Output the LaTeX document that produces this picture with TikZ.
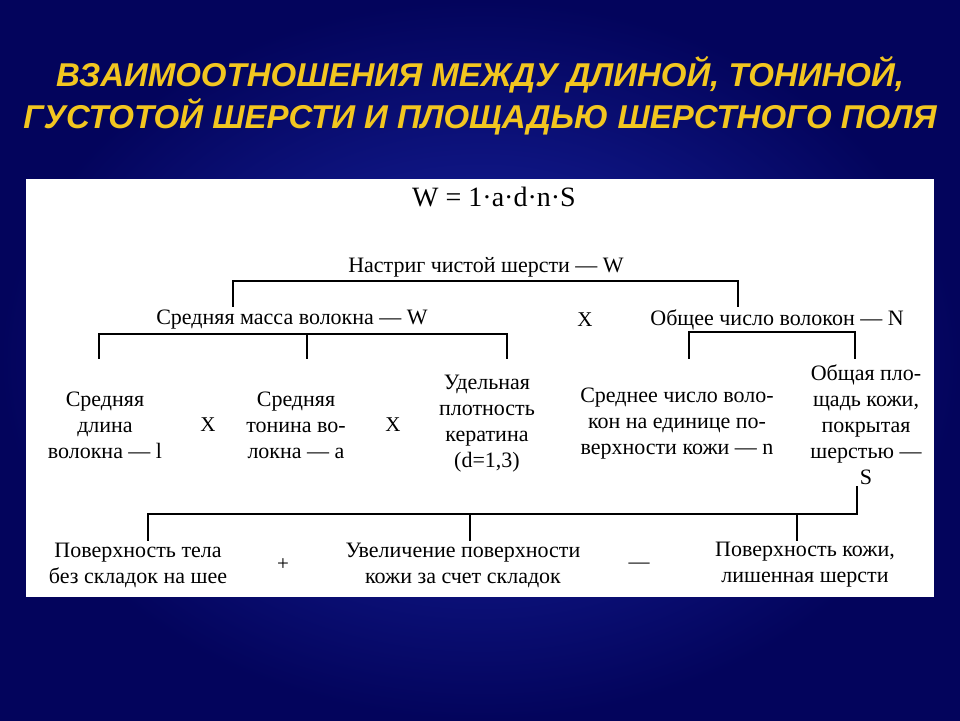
\documentclass[tikz,border=0pt]{standalone}
\usepackage{fontspec}
\setmainfont{Liberation Serif}
\newfontfamily\titlefont{Liberation Sans}
\definecolor{bgdark}{RGB}{3,4,92}
\definecolor{bglight}{RGB}{26,38,168}
\definecolor{titleyellow}{RGB}{242,198,32}
\tikzset{
  headline/.style={font=\titlefont\bfseries\itshape\fontsize{33}{38}\selectfont, text=titleyellow, inner sep=0},
  txt/.style={font=\fontsize{22}{26}\selectfont, align=center, inner sep=0},
  op/.style={font=\fontsize{21}{26}\selectfont, inner sep=0},
  brk/.style={line width=1.6pt, line cap=rect}
}
\begin{document}
\begin{tikzpicture}[x=1pt, y=-1pt]
	\useasboundingbox (0,0) rectangle (960,720);
	\shade[inner color=bglight, outer color=bgdark] (0,0) rectangle (960,720);
	\fill[white] (26,179) rectangle (934,597);

	% title
	\node[headline] (head1) at (480,75) {ВЗАИМООТНОШЕНИЯ МЕЖДУ ДЛИНОЙ, ТОНИНОЙ,};
	\node[headline] (head2) at (480,117) {ГУСТОТОЙ ШЕРСТИ И ПЛОЩАДЬЮ ШЕРСТНОГО ПОЛЯ};

	% formula and levels
	\node[txt, font=\fontsize{28}{30}\selectfont] (formula) at (494,197) {W = 1·a·d·n·S};
	\node[txt] (yield) at (486,267) {Настриг чистой шерсти — W};
	\node[txt] (mass) at (292,320) {Средняя масса волокна — W};
	\node[op] (x3) at (585,320) {X};
	\node[txt] (number) at (777,320) {Общее число волокон — N};

	\node[txt] (length) at (105,425) {Средняя\\длина\\волокна — l};
	\node[op] (x1) at (208,425) {X};
	\node[txt] (fineness) at (296,425) {Средняя\\тонина во-\\локна — a};
	\node[op] (x2) at (393,425) {X};
	\node[txt] (keratin) at (487,424) {Удельная\\плотность\\кератина\\(d=1,3)};
	\node[txt] (density) at (677,424) {Среднее число воло-\\кон на единице по-\\верхности кожи — n};
	\node[txt] (area) at (866,425) {Общая пло-\\щадь кожи,\\покрытая\\шерстью —\\S};

	\node[txt] (body) at (138,565) {Поверхность тела\\без складок на шее};
	\node[op] (plus) at (283,565) {+};
	\node[txt] (folds) at (463,565) {Увеличение поверхности\\кожи за счет складок};
	\node[op] (minus) at (639,566) {—};
	\node[txt] (bare) at (805,565) {Поверхность кожи,\\лишенная шерсти};

	% bracket ends
	\coordinate (ym) at (233,306);
	\coordinate (yn) at (738,306);
	\coordinate (ml) at (99,358);
	\coordinate (mf) at (307,358);
	\coordinate (mk) at (507,358);
	\coordinate (nd) at (689,358);
	\coordinate (na) at (855,358);
	\coordinate (ab) at (148,540);
	\coordinate (af) at (470,540);
	\coordinate (ar) at (797,540);

	% brackets
	\draw[brk] (ym) -- (233,281) -- (738,281) -- (yn);
	\draw[brk] (ml) -- (99,334) -- (507,334) -- (mk);
	\draw[brk] (mf) -- (307,334);
	\draw[brk] (nd) -- (689,332) -- (855,332) -- (na);
	\draw[brk] (area.south -| 857,0) ++(0,2) -- (857,514) -- (148,514) -- (ab);
	\draw[brk] (af) -- (470,514);
	\draw[brk] (ar) -- (797,514);
\end{tikzpicture}
\end{document}
